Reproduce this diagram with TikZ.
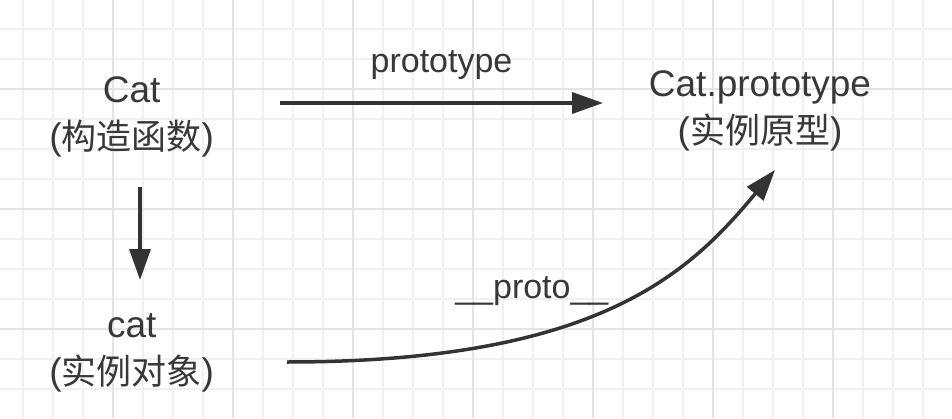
\documentclass[tikz,border=0pt]{standalone}
\usepackage{fontspec}
\setmainfont{Liberation Sans}
\newfontfamily\cjkfont{Noto Sans CJK SC}
\usetikzlibrary{arrows.meta,calc}
\definecolor{gridlight}{HTML}{F0F0F0}
\definecolor{griddark}{HTML}{E4E4E4}
\definecolor{ink}{HTML}{383838}
\definecolor{arrowink}{HTML}{333333}
\newcommand\nodesize{\fontsize{37}{47}\selectfont}
\newcommand\labelsize{\fontsize{34}{40}\selectfont}
\newcommand\zh[1]{{\cjkfont\fontsize{35}{47}\selectfont #1}}
\begin{document}
\begin{tikzpicture}[x=1pt,y=1pt,
  minorline/.style={draw=gridlight,line width=2pt},
  majorline/.style={draw=griddark,line width=2.4pt},
  concept/.style={align=center,text=ink,font=\nodesize,inner sep=0pt,anchor=base},
  edgelabel/.style={text=ink,font=\labelsize,inner sep=0pt,anchor=base},
  conn/.style={draw=arrowink,line width=3.5pt,-{Triangle[length=31pt,width=21pt]}}]
\fill[white] (0,0) rectangle (952,418);
\useasboundingbox (0,0) rectangle (952,418);
\foreach \k in {0,...,30} {\draw[minorline] (23+30*\k,0) -- (23+30*\k,418);}
\foreach \k in {0,...,12} {\draw[minorline] (0,389-30*\k) -- (952,389-30*\k);}
\foreach \x in {113,233,353,473,593,713,833} {\draw[majorline] (\x,0) -- (\x,418);}
\foreach \y in {89,209,329} {\draw[majorline] (0,\y) -- (952,\y);}

% base anchor = baseline of the last (Chinese) line
\node[concept] (ctor) at (131.7,268) {Cat\\(\zh{构造函数})};
\node[concept] (proto) at (760,274) {Cat.prototype\\(\zh{实例原型})};
\node[concept] (inst) at (131.7,34) {cat\\(\zh{实例对象})};

\draw[conn] ($(ctor.base)+(148.3,47)$) -- node[edgelabel,midway,yshift=30pt] (lblprototype) {prototype} ($(proto.base |- ctor.base)+(-157,47)$);
\draw[conn] ($(ctor.base)+(8.3,-37)$) -- ($(inst.base)+(8.3,104)$);
\draw[conn] ($(inst.base)+(155.3,22)$) .. controls +(313,0) and +(-85,-102) .. node[edgelabel,pos=0.33,yshift=37pt] (lblproto) {\_\_proto\_\_} ($(proto.base)+(15,-26)$);
\end{tikzpicture}
\end{document}
